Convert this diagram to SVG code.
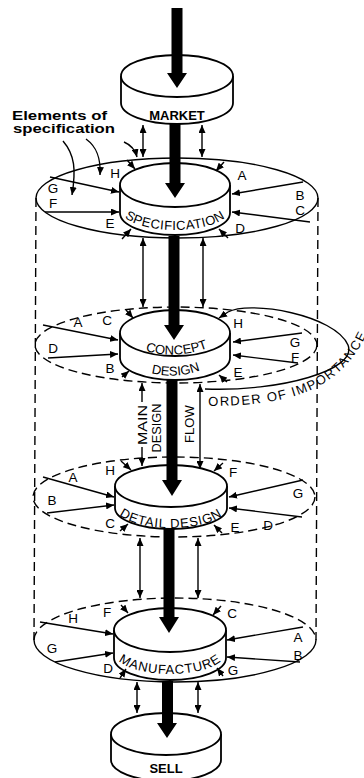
<svg xmlns="http://www.w3.org/2000/svg" width="364" height="778" viewBox="0 0 364 778">
<style>
.ln{stroke:#000;stroke-width:1.4;fill:none}
.dash{stroke-dasharray:9 5}
.cyl{fill:#fff;stroke:#000;stroke-width:1.8}
.lbl{font-family:"Liberation Sans",Arial,sans-serif;font-size:13.5px;text-anchor:middle;fill:#000}
.cap{font-family:"Liberation Sans",Arial,sans-serif;font-size:13px;fill:#000}
.bold{font-weight:bold}
.flow{fill:#000;stroke:none}
</style>
<defs>
<marker id="ah" viewBox="0 0 8 7" refX="8" refY="3.5" markerWidth="8" markerHeight="7" markerUnits="userSpaceOnUse" orient="auto-start-reverse">
<path d="M0,0 L8,3.5 L0,7 z" fill="#000"/>
</marker>
<path id="pSpec" d="M 119 208 A 56 22 0 0 0 231 208"/>
<path id="pConcept" d="M 134 347 Q 176 364 219 343"/>
<path id="pDesign" d="M 141 370 Q 176 383 210 366"/>
<path id="pDetail" d="M 114 506 A 57 22 0 0 0 228 506"/>
<path id="pManuf" d="M 114 652 A 56 22 0 0 0 226 652"/>
<path id="pOrder" d="M 205 406 C 290 406, 345 392, 372 322"/>
</defs>
<rect width="364" height="778" fill="#fff"/>

<g id="frame">
<path class="ln dash" d="M 36 198 L 34 640"/>
<path class="ln dash" d="M 318 198 L 316 640"/>
</g>

<g id="market">
<path class="cyl" d="M 121 76 V 103 A 56 21 0 0 0 233 103 V 76"/>
<ellipse class="cyl" cx="177" cy="76" rx="56" ry="21"/>
<text class="cap bold" x="177" y="120" text-anchor="middle" font-size="12.5">MARKET</text>
</g>

<g id="elements-note">
<text class="cap bold" x="12" y="120" font-size="13.5" textLength="95" lengthAdjust="spacingAndGlyphs">Elements of</text>
<text class="cap bold" x="13" y="133" font-size="13.5" textLength="102" lengthAdjust="spacingAndGlyphs">specification</text>
</g>

<g id="specification">
<ellipse class="ln" cx="177" cy="198" rx="141" ry="40"/>
<path class="cyl" d="M 120 185 V 213 A 55 22 0 0 0 230 213 V 185"/>
<ellipse class="cyl" cx="175" cy="185" rx="55" ry="22"/>
<text class="cap" font-size="13.5" letter-spacing="0.5"><textPath href="#pSpec" startOffset="50%" text-anchor="middle">SPECIFICATION</textPath></text>
<text class="lbl" x="115" y="178">H</text>
<text class="lbl" x="242" y="180">A</text>
<text class="lbl" x="53" y="193">G</text>
<text class="lbl" x="53" y="208">F</text>
<text class="lbl" x="300" y="200">B</text>
<text class="lbl" x="300" y="215">C</text>
<text class="lbl" x="110" y="228">E</text>
<text class="lbl" x="240" y="233">D</text>
</g>

<g id="concept-design">
<ellipse class="ln dash" cx="176" cy="345" rx="141" ry="38"/>
<path class="ln" d="M 228 312 C 250 300, 335 315, 348 345 C 358 370, 280 392, 205 389"/>
<text class="cap" letter-spacing="1.5"><textPath href="#pOrder" startOffset="3">ORDER OF IMPORTANCE</textPath></text>
<path class="cyl" d="M 120 333 V 358 A 55 22 0 0 0 230 358 V 333"/>
<ellipse class="cyl" cx="175" cy="333" rx="55" ry="23"/>
<text class="cap" font-size="14.5"><textPath href="#pConcept" startOffset="50%" text-anchor="middle">CONCEPT</textPath></text>
<text class="cap" font-size="14.5"><textPath href="#pDesign" startOffset="50%" text-anchor="middle">DESIGN</textPath></text>
<text class="lbl" x="78" y="327">A</text>
<text class="lbl" x="107" y="325">C</text>
<text class="lbl" x="53" y="353">D</text>
<text class="lbl" x="110" y="373">B</text>
<text class="lbl" x="238" y="328">H</text>
<text class="lbl" x="295" y="347">G</text>
<text class="lbl" x="295" y="362">F</text>
<text class="lbl" x="238" y="377">E</text>
</g>

<g id="detail-design">
<ellipse class="ln dash" cx="174" cy="497" rx="141" ry="40"/>
<path class="cyl" d="M 115 486 V 508 A 56 21 0 0 0 227 508 V 486"/>
<ellipse class="cyl" cx="171" cy="486" rx="56" ry="21"/>
<text class="cap" font-size="13" letter-spacing="0.8"><textPath href="#pDetail" startOffset="50%" text-anchor="middle">DETAIL DESIGN</textPath></text>
<text class="lbl" x="73" y="482">A</text>
<text class="lbl" x="110" y="475">H</text>
<text class="lbl" x="52" y="505">B</text>
<text class="lbl" x="110" y="528">C</text>
<text class="lbl" x="233" y="477">F</text>
<text class="lbl" x="298" y="498">G</text>
<text class="lbl" x="235" y="532">E</text>
<text class="lbl" x="268" y="530">D</text>
</g>

<g id="manufacture">
<path class="ln dash" d="M 34 640 A 141 42 0 0 1 316 640"/>
<path class="ln" d="M 34 640 A 141 42 0 0 0 316 640"/>
<path class="cyl" d="M 114 630 V 658 A 56 22 0 0 0 226 658 V 630"/>
<ellipse class="cyl" cx="170" cy="630" rx="56" ry="22"/>
<text class="cap" font-size="13" letter-spacing="0.8"><textPath href="#pManuf" startOffset="50%" text-anchor="middle">MANUFACTURE</textPath></text>
<text class="lbl" x="107" y="617">F</text>
<text class="lbl" x="73" y="623">H</text>
<text class="lbl" x="52" y="653">G</text>
<text class="lbl" x="108" y="673">D</text>
<text class="lbl" x="232" y="618">C</text>
<text class="lbl" x="298" y="642">A</text>
<text class="lbl" x="298" y="660">B</text>
<text class="lbl" x="233" y="675">G</text>
</g>

<g id="sell">
<path class="cyl" d="M 111 734 V 760 A 55 21 0 0 0 221 760 V 734"/>
<ellipse class="cyl" cx="166" cy="734" rx="55" ry="21"/>
<text class="cap bold" x="166" y="773" font-size="14" text-anchor="middle">SELL</text>
</g>

<g id="connectors">
<!-- main design flow -->
<polygon class="flow" points="171.5,8 182.5,8 182.5,73 187,73 177,88 167,73 171.5,73"/>
<polygon class="flow" points="169.5,124 180.5,124 180.5,183 185,183 175,198 165,183 169.5,183"/>
<polygon class="flow" points="168.5,236 179.5,236 179.5,325 184,325 174,340 164,325 168.5,325"/>
<polygon class="flow" points="166.5,380 177.5,380 177.5,480 182,480 172,496 162,480 166.5,480"/>
<polygon class="flow" points="163.5,529 174.5,529 174.5,617 179,617 169,633 159,617 163.5,617"/>
<polygon class="flow" points="162,681 173,681 173,723 177,723 167,738 157,723 162,723"/>

<!-- elements of specification pointers -->
<path class="ln" marker-end="url(#ah)" d="M 63 141 C 75 155, 76 170, 72 195"/>
<path class="ln" marker-end="url(#ah)" d="M 86 139 C 97 147, 101 158, 100 175"/>
<path class="ln" marker-end="url(#ah)" d="M 124 142 C 131 145, 135 149, 137 157"/>

<!-- double arrows between stages -->
<g class="ln" marker-start="url(#ah)" marker-end="url(#ah)">
<path d="M 143 125 L 143 157"/>
<path d="M 202 125 L 202 157"/>
<path d="M 143 238 L 143 307"/>
<path d="M 203 238 L 203 307"/>
<path d="M 200 384 L 200 469"/>
<path d="M 140 538 L 140 598"/>
<path d="M 198 538 L 198 598"/>
<path d="M 137 682 L 137 713"/>
<path d="M 198 682 L 198 713"/>
</g>
<path class="ln" marker-start="url(#ah)" d="M 142 383 L 142 402"/>
<path class="ln" marker-end="url(#ah)" d="M 142 447 L 142 466"/>

<!-- element inputs -->
<g class="ln" marker-end="url(#ah)">
<path d="M 50 177 L 119 192"/>
<path d="M 45 212 L 119 212"/>
<path d="M 122 239 L 131 229"/>
<path d="M 127 160 L 135 169"/>
<path d="M 224 162 L 216 171"/>
<path d="M 303 182 L 232 194"/>
<path d="M 310 222 L 232 212"/>
<path d="M 228 238 L 219 229"/>

<path d="M 43 325 L 118 340"/>
<path d="M 48 358 L 118 354"/>
<path d="M 126 310 L 133 318"/>
<path d="M 122 377 L 129 371"/>
<path d="M 228 312 L 219 318"/>
<path d="M 302 333 L 233 342"/>
<path d="M 298 363 L 233 355"/>
<path d="M 227 382 L 219 375"/>

<path d="M 43 477 L 114 497"/>
<path d="M 47 513 L 114 505"/>
<path d="M 121 461 L 131 470"/>
<path d="M 120 531 L 128 524"/>
<path d="M 223 463 L 214 471"/>
<path d="M 303 480 L 229 497"/>
<path d="M 302 517 L 229 508"/>
<path d="M 222 533 L 214 525"/>

<path d="M 40 622 L 113 634"/>
<path d="M 55 662 L 113 653"/>
<path d="M 121 605 L 128 613"/>
<path d="M 120 678 L 126 669"/>
<path d="M 221 606 L 213 615"/>
<path d="M 303 627 L 227 640"/>
<path d="M 300 662 L 227 657"/>
<path d="M 223 676 L 217 668"/>
</g>
</g>

<g id="flow-labels">
<text class="cap" font-size="15" transform="translate(147,425) rotate(-90)" text-anchor="middle" textLength="40" lengthAdjust="spacingAndGlyphs">MAIN</text>
<text class="cap" font-size="15" transform="translate(161,428) rotate(-90)" text-anchor="middle" textLength="49" lengthAdjust="spacingAndGlyphs">DESIGN</text>
<text class="cap" font-size="15" transform="translate(194,424) rotate(-90)" text-anchor="middle" textLength="38" lengthAdjust="spacingAndGlyphs">FLOW</text>
</g>
</svg>
